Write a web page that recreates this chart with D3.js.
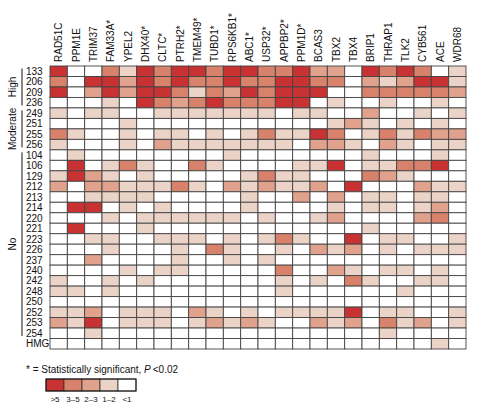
<!DOCTYPE html>
<html><head><meta charset="utf-8">
<script src="https://cdn.jsdelivr.net/npm/d3@7"></script>
<style>body{margin:0;background:#fff}svg{display:block;font-family:"Liberation Sans",Arial,sans-serif}</style>
</head><body><svg id="c" width="478" height="410"></svg>
<script>
const genes = ["RAD51C","PPM1E","TRIM37","FAM33A*","YPEL2","DHX40*","CLTC*","PTRH2*","TMEM49*","TUBD1*","RPS6KB1*","ABC1*","USP32*","APPBP2*","PPM1D*","BCAS3","TBX2","TBX4","BRIP1","THRAP1","TLK2","CYB561","ACE","WDR68"];
const samples = ["133","206","209","236","249","251","255","256","104","106","129","212","213","214","220","221","223","226","237","240","242","248","250","252","253","254","HMG"];
const groups = [{name:"High",from:"133",to:"236"},{name:"Moderate",from:"249",to:"256"},{name:"No",from:"104",to:"254"}];
// level codes: 4 = >5, 3 = 3–5, 2 = 2–3, 1 = 1–2, 0 = <1
const levelLabels = [">5","3\u20135","2\u20133","1\u20132","<1"];
const levelCodes = [4,3,2,1,0];
const levels = [
 [4,0,0,3,1,4,3,4,4,3,4,4,3,3,4,2,2,0,4,3,4,3,0,1],
 [3,0,4,4,2,4,3,4,3,3,4,3,3,4,4,3,3,0,2,1,2,4,4,1],
 [4,0,2,4,2,4,4,3,1,3,2,4,3,4,4,4,0,0,3,3,3,3,3,2],
 [0,0,0,1,0,4,3,2,3,4,3,3,3,4,4,0,1,0,0,1,0,0,1,0],
 [1,0,1,1,0,0,1,1,1,1,1,1,1,0,1,1,0,0,2,0,0,1,0,1],
 [0,0,0,0,1,0,0,0,0,0,0,0,0,0,0,0,1,2,1,0,1,0,1,0],
 [3,1,0,0,1,0,1,1,0,1,0,1,3,1,1,4,3,0,1,3,1,3,2,2],
 [1,0,0,0,1,0,2,1,1,1,1,1,1,1,0,2,2,1,0,2,1,0,1,1],
 [0,1,0,0,0,0,0,0,0,0,1,0,0,0,0,0,0,0,1,0,0,0,1,0],
 [0,4,0,1,3,1,0,0,3,1,0,0,0,0,1,1,4,0,1,1,3,3,4,0],
 [1,4,2,1,0,1,0,0,0,0,0,1,3,1,1,0,0,0,3,2,1,0,0,0],
 [2,0,2,2,1,1,1,3,1,0,2,1,2,1,1,2,0,4,0,0,0,2,1,1],
 [0,0,1,1,1,1,0,0,0,0,0,1,0,0,2,0,2,0,1,1,0,1,1,0],
 [0,4,4,0,1,0,1,0,0,0,0,1,0,0,0,0,1,0,1,1,0,1,2,0],
 [0,0,0,1,0,1,1,1,1,1,1,0,1,0,0,1,2,0,0,0,0,2,3,0],
 [0,4,0,0,0,1,0,0,0,0,0,0,0,0,0,0,0,0,1,0,0,0,0,0],
 [0,0,1,1,0,0,1,1,1,0,1,0,1,3,1,0,0,4,0,1,1,0,0,1],
 [0,0,0,1,0,0,0,1,0,3,1,0,0,1,0,2,1,2,0,1,0,1,1,1],
 [0,0,2,0,0,0,0,1,0,0,1,0,1,0,0,0,0,0,0,0,0,0,0,0],
 [0,0,0,0,1,0,1,1,0,0,0,0,0,3,0,0,2,1,0,1,1,0,1,0],
 [1,0,0,1,0,1,0,0,0,0,0,0,0,1,0,1,0,3,1,0,0,1,1,0],
 [1,1,0,1,0,0,0,0,0,0,0,0,0,1,0,0,0,0,0,0,1,0,0,0],
 [0,0,0,0,0,0,0,0,0,0,0,0,0,0,0,0,0,0,0,0,0,0,0,0],
 [1,1,2,0,1,1,1,0,2,1,0,1,0,1,1,1,1,4,0,1,1,0,0,1],
 [2,1,4,0,1,1,1,0,1,2,1,2,1,0,0,2,1,2,0,3,1,2,0,1],
 [0,0,1,0,0,0,0,0,0,0,0,0,0,0,0,0,0,0,0,1,0,0,0,0],
 [0,0,0,0,0,0,0,0,0,0,0,0,0,0,0,0,0,0,0,0,0,0,1,0]
];

const svg = d3.select("#c");
const color = d3.scaleOrdinal().domain([0,1,2,3,4]).range(["#ffffff","#ebd3c8","#e0a18d","#d9826b","#c83232"]);
const x = d3.scaleBand().domain(genes).range([50,466]);
const y = d3.scaleBand().domain(samples).range([66,349]);

const cells = [];
samples.forEach((s,i)=>genes.forEach((g,j)=>cells.push({s,g,v:levels[i][j]})));
svg.append("g").selectAll("rect").data(cells).join("rect")
  .attr("x",d=>x(d.g)).attr("y",d=>y(d.s))
  .attr("width",x.bandwidth()).attr("height",y.bandwidth())
  .attr("fill",d=>color(d.v)).attr("stroke","#444").attr("stroke-width",0.9);

// column labels
svg.append("g").selectAll("text").data(genes).join("text")
  .attr("transform",d=>`translate(${x(d)+x.bandwidth()/2+3.5},62) rotate(-90)`)
  .attr("font-size",10).attr("fill","#111").text(d=>d);

// row labels
svg.append("g").selectAll("text").data(samples).join("text")
  .attr("x",26).attr("y",d=>y(d)+y.bandwidth()/2+3.6)
  .attr("font-size",10).attr("fill","#111").text(d=>d);

// group brackets & labels
groups.forEach(g=>{
  const y0 = y(g.from)+2.5, y1 = y(g.to)+y.bandwidth()-2.5;
  svg.append("line").attr("x1",22).attr("x2",22).attr("y1",y0).attr("y2",y1).attr("stroke","#111").attr("stroke-width",1);
  svg.append("text").attr("transform",`translate(16,${(y0+y1)/2}) rotate(-90)`)
    .attr("text-anchor","middle").attr("font-size",10).attr("fill","#111").text(g.name);
});

// footnote
const fn = svg.append("text").attr("x",26).attr("y",373).attr("font-size",10).attr("fill","#111");
fn.append("tspan").text("* = Statistically significant, ");
fn.append("tspan").attr("font-style","italic").text("P");
fn.append("tspan").text("\u2009<0.02");

// legend
const lx = d3.scaleBand().domain(levelCodes).range([46,136]);
const lg = svg.append("g");
lg.selectAll("rect").data(levelCodes).join("rect")
  .attr("x",d=>lx(d)).attr("y",379).attr("width",lx.bandwidth()).attr("height",12)
  .attr("fill",d=>color(d)).attr("stroke","#333").attr("stroke-width",0.8);
lg.append("rect").attr("x",46).attr("y",379).attr("width",90).attr("height",12).attr("fill","none").attr("stroke","#111").attr("stroke-width",1);
lg.selectAll("text").data(levelCodes).join("text")
  .attr("x",d=>lx(d)+lx.bandwidth()/2).attr("y",402).attr("text-anchor","middle")
  .attr("font-size",8).attr("fill","#111").text((d,i)=>levelLabels[i]);
</script></body></html>
